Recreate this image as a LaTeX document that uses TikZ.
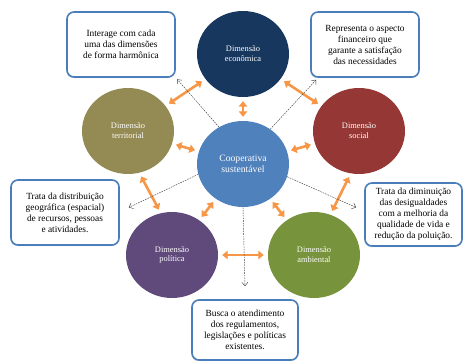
\documentclass[tikz,border=0pt]{standalone}
\usepackage{fontspec}
\setmainfont{Liberation Serif}
\usetikzlibrary{shapes.geometric,arrows.meta,calc,shadows}

\definecolor{econcol}{RGB}{23,55,94}
\definecolor{terrcol}{RGB}{148,138,84}
\definecolor{soccol}{RGB}{149,55,53}
\definecolor{polcol}{RGB}{96,74,123}
\definecolor{ambcol}{RGB}{119,147,60}
\definecolor{coopcol}{RGB}{79,129,189}
\definecolor{linkorange}{RGB}{247,150,70}
\definecolor{boxblue}{RGB}{74,126,187}

\begin{document}
\begin{tikzpicture}[x=1pt,y=-1pt,
  dim/.style={ellipse, minimum width=92pt, minimum height=86pt, inner sep=0pt,
    text=white, font=\fontsize{8.4}{9.6}\selectfont, align=center},
  note/.style={draw=boxblue, line width=1.6pt, rounded corners=7pt, fill=white,
    align=center, font=\fontsize{9.4}{11}\selectfont, inner sep=0pt,
    drop shadow={shadow xshift=-0.6pt, shadow yshift=-1.2pt, opacity=0.25, fill=black!60}},
  link/.style={draw=linkorange, line width=2.6pt,
    {Triangle[length=5.5pt,width=8.5pt]}-{Triangle[length=5.5pt,width=8.5pt]},
    shorten <=4pt, shorten >=4pt},
  hint/.style={draw=black!75, line width=0.45pt, dash pattern=on 1.6pt off 1pt,
    -{Straight Barb[length=3.5pt,width=6pt]}}
]
\useasboundingbox (0,0) rectangle (464,361);

% dimension circles
\node[dim, fill=coopcol, font=\fontsize{9.7}{10.5}\selectfont] (coop) at (243,164) {Cooperativa\\sustentável};
\node[dim, fill=econcol] (econ) at (243,54) {Dimensão\\econômica};
\node[dim, fill=terrcol] (terr) at (128,131) {Dimensão\\territorial};
\node[dim, fill=soccol] (soc) at (359,131) {Dimensão\\social};
\node[dim, fill=polcol] (pol) at (172,255) {Dimensão\\política};
\node[dim, fill=ambcol] (amb) at (314,255) {Dimensão\\ambiental};

% explanatory notes
\node[note, minimum width=108pt, minimum height=65pt] (ntl) at (121,44.5)
  {Interage com cada\\uma das dimensões\\de forma harmônica};
\node[note, minimum width=108pt, minimum height=65pt] (ntr) at (365,44.5)
  {Representa o aspecto\\financeiro que\\garante a satisfação\\das necessidades};
\node[note, minimum width=108pt, minimum height=65pt] (nl) at (65,212.5)
  {Trata da distribuição\\geográfica (espacial)\\de recursos, pessoas\\e atividades.};
\node[note, minimum width=97pt, minimum height=63pt] (nr) at (413.5,214.5)
  {Trata da diminuição\\das desigualdades\\com a melhoria da\\qualidade de vida e\\redução da poluição.};
\node[note, minimum width=106pt, minimum height=60pt] (nb) at (245,330)
  {Busca o atendimento\\dos regulamentos,\\legislações e políticas\\existentes.};

% two-way links between dimensions
\draw[link] (econ) -- (coop);
\draw[link] (terr) -- (econ);
\draw[link] (econ) -- (soc);
\draw[link] (terr) -- (coop);
\draw[link] (coop) -- (soc);
\draw[link] (terr.-75) -- (pol.105);
\draw[link] (coop) -- (pol);
\draw[link] (coop) -- (amb);
\draw[link] (pol) -- (amb);
\draw[link] (soc.-101) -- (amb.68);

% pointers from the centre to the notes
\draw[hint, shorten >=2pt] (coop.123) -- (ntl.south east);
\draw[hint] (coop.52) -- ($(ntr.south west)+(6,2)$);
\draw[hint] (coop.193) -- ($(nl.east)+(9,-5)$);
\draw[hint] (coop.-16) -- ($(nr.west)+(-8,-7)$);
\draw[hint] (coop.south) -- ($(nb.north)+(0,-13)$);
\end{tikzpicture}
\end{document}
